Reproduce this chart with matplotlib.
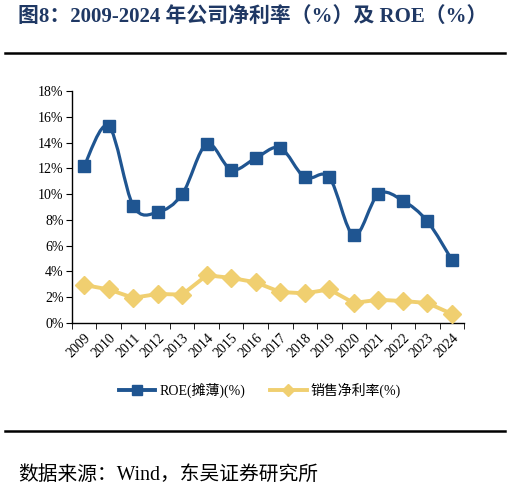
import numpy as np
import matplotlib.pyplot as plt
from matplotlib.path import Path
from matplotlib.patches import PathPatch
from matplotlib.lines import Line2D

years = ['2009', '2010', '2011', '2012', '2013', '2014', '2015', '2016',
         '2017', '2018', '2019', '2020', '2021', '2022', '2023', '2024']
roe = [12.2, 15.3, 9.1, 8.6, 10.0, 13.9, 11.9, 12.8,
       13.6, 11.3, 11.3, 6.8, 10.0, 9.5, 7.9, 4.9]
net_margin = [2.95, 2.6, 1.95, 2.25, 2.2, 3.7, 3.5, 3.15,
              2.4, 2.3, 2.6, 1.55, 1.8, 1.7, 1.55, 0.7]

BLUE = '#1f5591'
YELLOW = '#f0cf70'
SERIF = ['Liberation Serif', 'Noto Sans CJK SC']


def smooth_path(x, y, t=1 / 6):
    # Catmull-Rom style bezier, like an Excel smoothed line
    verts = [(x[0], y[0])]
    codes = [Path.MOVETO]
    n = len(x)
    for i in range(n - 1):
        x0, y0 = (x[i - 1], y[i - 1]) if i > 0 else (x[i], y[i])
        x3, y3 = (x[i + 2], y[i + 2]) if i + 2 < n else (x[i + 1], y[i + 1])
        c1 = (x[i] + (x[i + 1] - x0) * t, y[i] + (y[i + 1] - y0) * t)
        c2 = (x[i + 1] - (x3 - x[i]) * t, y[i + 1] - (y3 - y[i]) * t)
        verts += [c1, c2, (x[i + 1], y[i + 1])]
        codes += [Path.CURVE4] * 3
    return Path(verts, codes)


fig = plt.figure(figsize=(5.1, 4.93), dpi=100)
ax = fig.add_axes([0.141, 0.345, 0.769, 0.47])

xs = np.arange(len(years))
ax.add_patch(PathPatch(smooth_path(xs, roe), fill=False, ec=BLUE, lw=2.3,
                       capstyle='round', zorder=3))
ax.plot(xs, roe, ls='none', marker='s', ms=9, color=BLUE, zorder=4)
ax.plot(xs, net_margin, color=YELLOW, lw=2.8, marker='D', ms=9, zorder=3)

ax.set_xlim(-0.5, len(years) - 0.5)
ax.set_ylim(0, 18)
ax.set_yticks(np.arange(0, 19, 2))
ax.set_yticklabels([f'{v}%' for v in range(0, 19, 2)], fontfamily=SERIF, fontsize=10)
ax.set_xticks(xs)
ax.set_xticklabels(years, rotation=45, ha='right', rotation_mode='anchor',
                   fontfamily=SERIF, fontsize=10)
ax.set_xticks(np.arange(-0.5, len(years), 1), minor=True)
ax.tick_params(axis='x', which='major', length=0, pad=6)
ax.tick_params(axis='x', which='minor', length=4, direction='out')
ax.tick_params(axis='y', length=4, direction='out', pad=2)
for s in ['top', 'right']:
    ax.spines[s].set_visible(False)
for s in ['left', 'bottom']:
    ax.spines[s].set_linewidth(1.0)

handles = [Line2D([], [], color=BLUE, lw=2.8, marker='s', ms=7),
           Line2D([], [], color=YELLOW, lw=2.8, marker='D', ms=6)]
fig.legend(handles, ['ROE(摊薄)(%)', '销售净利率(%)'], loc='center',
           bbox_to_anchor=(0.51, 0.209), ncol=2, frameon=False, handlelength=2.6,
           columnspacing=1.8, handletextpad=0.3, prop={'family': SERIF, 'size': 10})

fig.text(0.035, 0.965, '图8：2009-2024 年公司净利率（%）及 ROE（%）', fontsize=15,
         fontweight='bold', color='#1f3864', va='center',
         fontfamily=['Liberation Serif', 'Noto Sans CJK SC'])
fig.add_artist(Line2D([0.01, 0.99], [0.893, 0.893], color='black', lw=1.8))
fig.add_artist(Line2D([0.01, 0.99], [0.126, 0.126], color='black', lw=1.8))
fig.text(0.035, 0.035, '数据来源：Wind，东吴证券研究所', fontsize=14.2, va='center',
         fontfamily=['Liberation Serif', 'Noto Sans CJK SC'])

fig.savefig('out.png', dpi=100)
